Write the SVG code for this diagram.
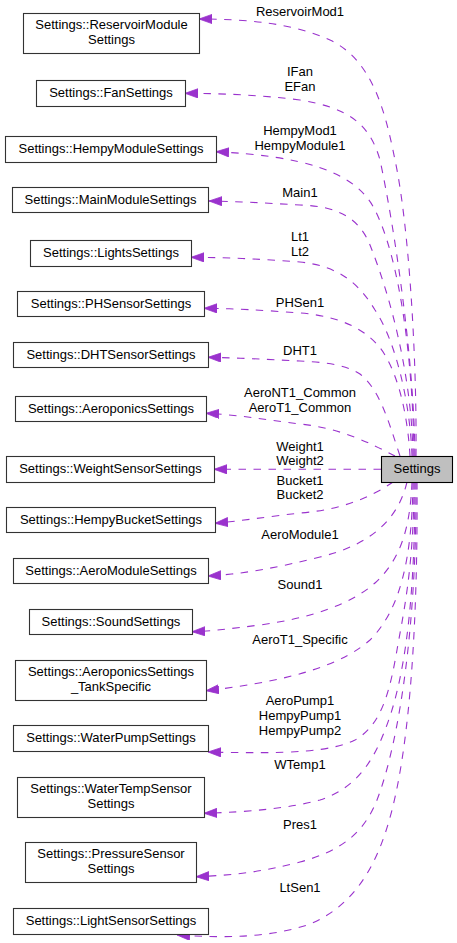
<svg xmlns="http://www.w3.org/2000/svg" width="457" height="943" viewBox="0 0 457 943">
<style>
.node rect{fill:#ffffff;stroke:#333333;stroke-width:1.1}
.cur rect{fill:#bfbfbf;stroke:#000000}
text{font-family:"Liberation Sans",Arial,Helvetica,sans-serif;font-size:13px;fill:#000000;text-anchor:middle}
.edge{fill:none;stroke:#9a32cd;stroke-width:1.1;stroke-dasharray:7.5,7.5;marker-end:url(#ah)}
</style>
<defs>
<marker id="ah" markerUnits="userSpaceOnUse" markerWidth="14" markerHeight="10" refX="13" refY="4.6" orient="auto">
<path d="M0,0 L13,4.6 L0,9.2 z" fill="#9a32cd" stroke="#9a32cd" stroke-width="0.8"/>
</marker>
</defs>
<rect width="457" height="943" fill="#ffffff"/>
<g id="connectors">
<path class="edge" d="M416,456 C417,350 408,220 395,160 C385,110 372,60 330,40 C295,24 250,19 199,19"/>
<path class="edge" d="M415,456 C414,360 395,230 380,160 C370,125 350,108 300,100 C260,95 225,93.5 185,93.3"/>
<path class="edge" d="M414,456 C413,360 400,260 375,210 C355,170 300,156 216,151.7"/>
<path class="edge" d="M413,456 C412,380 392,300 370,245 C360,220 340,206 300,205 C265,203 240,201.5 209,201"/>
<path class="edge" d="M412,456 C410,400 395,340 375,310 C360,285 340,266 300,262 C260,259 230,257.5 191,257.3"/>
<path class="edge" d="M410,456 C408,420 400,380 385,355 C370,330 340,316 300,313 C260,310 235,308.5 204,308.3"/>
<path class="edge" d="M400,456 C388,420 380,390 360,374 C345,364 320,362 300,361 C260,359 240,358 208,357.3"/>
<path class="edge" d="M395,456 C370,443 340,428 300,424 C260,419 240,415 206,413.3"/>
<path class="edge" d="M381,469.3 L214,469.3"/>
<path class="edge" d="M393,482 C370,498 340,510 300,513 C265,517 240,521 215,523.3"/>
<path class="edge" d="M407,482 C398,520 370,545 320,557 C280,567 245,574 208,576"/>
<path class="edge" d="M412,482 C410,530 400,560 375,583 C350,605 310,618 260,625 C235,628 215,631 192,631.7"/>
<path class="edge" d="M413,482 C412,560 400,610 370,640 C345,662 300,680 206,690.7"/>
<path class="edge" d="M414,482 C414,570 402,620 397,650 C390,690 382,725 355,740 C330,752 290,754 208,752"/>
<path class="edge" d="M415,482 C415,600 405,680 385,730 C370,770 350,790 320,800 C290,808 250,812 204,813.3"/>
<path class="edge" d="M416,482 C417,620 400,740 377,800 C365,830 345,850 300,862 C265,871 240,875 196,876.7"/>
<path class="edge" d="M417,482 C418,620 410,740 392,810 C378,865 355,905 310,924 C270,938 225,938 177,935"/>
<g id="edge-labels">
<text x="300" y="15.7">ReservoirMod1</text>
<text x="300" y="76">IFan</text>
<text x="300" y="90.7">EFan</text>
<text x="300" y="135">HempyMod1</text>
<text x="300" y="149.5">HempyModule1</text>
<text x="300" y="197">Main1</text>
<text x="300" y="241">Lt1</text>
<text x="300" y="256">Lt2</text>
<text x="300" y="307">PHSen1</text>
<text x="300" y="354.7">DHT1</text>
<text x="300" y="396.7">AeroNT1_Common</text>
<text x="300" y="412">AeroT1_Common</text>
<text x="300" y="450.7">Weight1</text>
<text x="300" y="465">Weight2</text>
<text x="300" y="484.5">Bucket1</text>
<text x="300" y="499">Bucket2</text>
<text x="300" y="539">AeroModule1</text>
<text x="300" y="589">Sound1</text>
<text x="300" y="643.5">AeroT1_Specific</text>
<text x="300" y="705.3">AeroPump1</text>
<text x="300" y="720">HempyPump1</text>
<text x="300" y="734.7">HempyPump2</text>
<text x="300" y="769">WTemp1</text>
<text x="300" y="828.7">Pres1</text>
<text x="300" y="892">LtSen1</text>
</g>
</g>
<g id="node-settings" class="node cur"><rect x="381.5" y="456.5" width="71" height="26"/><text x="417" y="472.5">Settings</text></g>
<g id="node-reservoir" class="node"><rect x="23.5" y="13.5" width="176" height="40"/><text x="111.5" y="29">Settings::ReservoirModule</text><text x="111.5" y="44">Settings</text></g>
<g id="node-fan" class="node"><rect x="36.5" y="80.5" width="149" height="26"/><text x="111" y="96.7">Settings::FanSettings</text></g>
<g id="node-hempymodule" class="node"><rect x="5.5" y="136.5" width="211" height="26"/><text x="111" y="152.7">Settings::HempyModuleSettings</text></g>
<g id="node-mainmodule" class="node"><rect x="12.5" y="187.5" width="196" height="25"/><text x="110.5" y="203.5">Settings::MainModuleSettings</text></g>
<g id="node-lights" class="node"><rect x="30.5" y="240.5" width="161" height="26"/><text x="111" y="256.7">Settings::LightsSettings</text></g>
<g id="node-phsensor" class="node"><rect x="17.5" y="291.5" width="187" height="25"/><text x="111" y="307.5">Settings::PHSensorSettings</text></g>
<g id="node-dhtsensor" class="node"><rect x="13.5" y="342.5" width="195" height="25"/><text x="111" y="358.5">Settings::DHTSensorSettings</text></g>
<g id="node-aeroponics" class="node"><rect x="15.5" y="396.5" width="191" height="25"/><text x="111" y="412.5">Settings::AeroponicsSettings</text></g>
<g id="node-weightsensor" class="node"><rect x="6.5" y="456.5" width="208" height="26"/><text x="110.5" y="472.7">Settings::WeightSensorSettings</text></g>
<g id="node-hempybucket" class="node"><rect x="6.5" y="507.5" width="209" height="25"/><text x="111" y="523.5">Settings::HempyBucketSettings</text></g>
<g id="node-aeromodule" class="node"><rect x="13.5" y="558.5" width="195" height="25"/><text x="111" y="574.5">Settings::AeroModuleSettings</text></g>
<g id="node-sound" class="node"><rect x="29.5" y="609.5" width="163" height="25"/><text x="111" y="625.5">Settings::SoundSettings</text></g>
<g id="node-tankspecific" class="node"><rect x="15.5" y="660.5" width="191" height="40"/><text x="111" y="676">Settings::AeroponicsSettings</text><text x="111" y="691">_TankSpecific</text></g>
<g id="node-waterpump" class="node"><rect x="13.5" y="725.5" width="195" height="26"/><text x="111" y="741.7">Settings::WaterPumpSettings</text></g>
<g id="node-watertemp" class="node"><rect x="17.5" y="777.5" width="187" height="40"/><text x="111" y="793">Settings::WaterTempSensor</text><text x="111" y="808">Settings</text></g>
<g id="node-pressure" class="node"><rect x="25.5" y="842.5" width="171" height="40"/><text x="111" y="858">Settings::PressureSensor</text><text x="111" y="873">Settings</text></g>
<g id="node-lightsensor" class="node"><rect x="13.5" y="908.5" width="195" height="26"/><text x="111" y="924.7">Settings::LightSensorSettings</text></g>
</svg>
